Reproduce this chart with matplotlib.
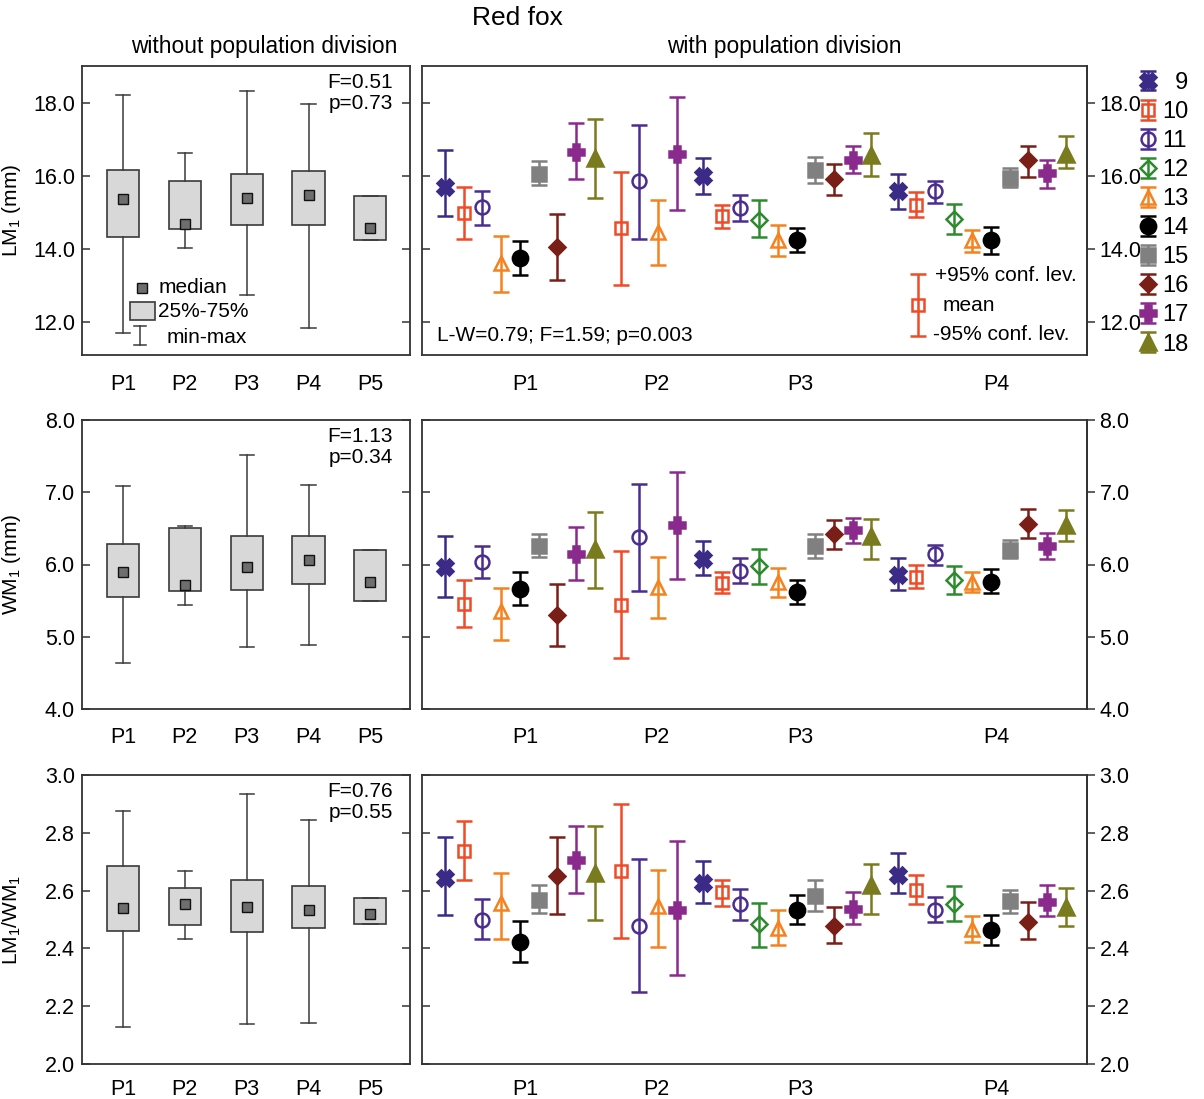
import matplotlib
matplotlib.use("Agg")
import matplotlib.pyplot as plt
import numpy as np
from matplotlib.container import ErrorbarContainer
from matplotlib.legend_handler import HandlerErrorbar
from matplotlib.patches import Rectangle

plt.rcParams['font.family'] = ['Liberation Sans', 'DejaVu Sans']
plt.rcParams['mathtext.fontset'] = 'custom'
plt.rcParams['mathtext.rm'] = 'Liberation Sans'
plt.rcParams['mathtext.it'] = 'Liberation Sans:italic'

# ---- left panels: min / quartiles / median per population ----
pops = ['P1', 'P2', 'P3', 'P4', 'P5']

lm_hi = [18.21, 16.61, 18.32, 17.97, 15.45]
lm_q3 = [16.15, 15.85, 16.06, 16.13, 15.45]
lm_med = [15.36, 14.68, 15.38, 15.47, 14.57]
lm_q1 = [14.33, 14.54, 14.66, 14.66, 14.23]
lm_lo = [11.71, 14.03, 12.75, 11.85, 14.23]

wm_hi = [7.09, 6.53, 7.51, 7.10, 6.20]
wm_q3 = [6.29, 6.51, 6.39, 6.39, 6.20]
wm_med = [5.90, 5.72, 5.96, 6.06, 5.76]
wm_q1 = [5.55, 5.63, 5.65, 5.73, 5.50]
wm_lo = [4.64, 5.44, 4.86, 4.88, 5.50]

rt_hi = [2.876, 2.667, 2.933, 2.844, 2.575]
rt_q3 = [2.686, 2.609, 2.636, 2.617, 2.575]
rt_med = [2.540, 2.555, 2.544, 2.532, 2.520]
rt_q1 = [2.460, 2.480, 2.458, 2.469, 2.483]
rt_lo = [2.127, 2.434, 2.140, 2.141, 2.483]

# ---- right panels: mean and 95% CI per subpopulation ----
groups = ['P1', 'P2', 'P3', 'P4']
members = [[9, 10, 11, 13, 14, 15, 16, 17, 18],
           [10, 11, 13, 17],
           [9, 10, 11, 12, 13, 14, 15, 16, 17, 18],
           [9, 10, 11, 12, 13, 14, 15, 16, 17, 18]]

lm_mean = [15.68, 14.97, 15.14, 13.62, 13.75, 16.05, 14.04, 16.64, 16.49,
           14.57, 15.85, 14.45, 16.60,
           15.99, 14.89, 15.11, 14.80, 14.25, 14.23, 16.17, 15.92, 16.44, 16.58,
           15.58, 15.21, 15.58, 14.82, 14.25, 14.23, 15.94, 16.42, 16.08, 16.60]
lm_up = [16.70, 15.68, 15.58, 14.36, 14.21, 16.40, 14.95, 17.45, 17.56,
         16.11, 17.38, 15.35, 18.16,
         16.48, 15.19, 15.47, 15.35, 14.65, 14.57, 16.52, 16.32, 16.82, 17.17,
         16.05, 15.55, 15.85, 15.23, 14.53, 14.59, 16.20, 16.82, 16.44, 17.10]
lm_dn = [14.90, 14.28, 14.65, 12.81, 13.28, 15.74, 13.16, 15.90, 15.38,
         13.00, 14.28, 13.56, 15.06,
         15.49, 14.57, 14.77, 14.32, 13.80, 13.91, 15.80, 15.48, 16.08, 15.99,
         15.10, 14.88, 15.26, 14.41, 13.92, 13.86, 15.68, 15.97, 15.67, 16.21]

wm_mean = [5.96, 5.45, 6.04, 5.35, 5.66, 6.26, 5.30, 6.14, 6.21,
           5.44, 6.38, 5.69, 6.54,
           6.08, 5.75, 5.91, 5.98, 5.76, 5.62, 6.26, 6.42, 6.48, 6.39,
           5.85, 5.83, 6.14, 5.79, 5.76, 5.76, 6.20, 6.56, 6.25, 6.55]
wm_up = [6.40, 5.79, 6.26, 5.68, 5.89, 6.42, 5.73, 6.52, 6.72,
         6.18, 7.11, 6.11, 7.28,
         6.33, 5.89, 6.09, 6.22, 5.95, 5.78, 6.42, 6.61, 6.65, 6.63,
         6.09, 5.99, 6.27, 5.98, 5.90, 5.94, 6.34, 6.77, 6.43, 6.76]
wm_dn = [5.55, 5.13, 5.81, 4.95, 5.44, 6.10, 4.87, 5.79, 5.67,
         4.70, 5.63, 5.26, 5.80,
         5.86, 5.60, 5.75, 5.73, 5.55, 5.45, 6.09, 6.21, 6.30, 6.07,
         5.65, 5.67, 5.99, 5.59, 5.62, 5.60, 6.09, 6.36, 6.07, 6.33]

rt_mean = [2.644, 2.738, 2.500, 2.558, 2.422, 2.569, 2.652, 2.705, 2.661,
           2.669, 2.477, 2.546, 2.532,
           2.627, 2.594, 2.554, 2.483, 2.471, 2.534, 2.583, 2.477, 2.537, 2.621,
           2.655, 2.601, 2.534, 2.554, 2.468, 2.462, 2.563, 2.491, 2.561, 2.544]
rt_up = [2.784, 2.842, 2.571, 2.661, 2.494, 2.618, 2.787, 2.822, 2.824,
         2.899, 2.709, 2.672, 2.770,
         2.703, 2.638, 2.606, 2.558, 2.532, 2.584, 2.636, 2.544, 2.594, 2.693,
         2.730, 2.653, 2.577, 2.617, 2.511, 2.515, 2.603, 2.560, 2.621, 2.609]
rt_dn = [2.517, 2.638, 2.431, 2.431, 2.354, 2.521, 2.520, 2.590, 2.497,
         2.437, 2.249, 2.405, 2.307,
         2.558, 2.546, 2.500, 2.405, 2.411, 2.486, 2.531, 2.420, 2.486, 2.520,
         2.590, 2.554, 2.491, 2.494, 2.423, 2.411, 2.523, 2.431, 2.511, 2.477]

stats_left = ["F=0.51\np=0.73", "F=1.13\np=0.34", "F=0.76\np=0.55"]

# marker style per subpopulation: (marker, colour, filled, size)
styles = {
    9: ('X', '#3b2a86', True, 11),
    10: ('s', '#f04b26', False, 9),
    11: ('o', '#4a2d8e', False, 10),
    12: ('D', '#2e8a2e', False, 8),
    13: ('^', '#f5821f', False, 10),
    14: ('o', '#000000', True, 11),
    15: ('s', '#808080', True, 10),
    16: ('D', '#7a1e18', True, 8),
    17: ('P', '#8b2a8d', True, 12),
    18: ('^', '#7a7a1e', True, 11),
}

# x positions: consecutive, with an extra 0.4 gap between groups
ids, xpos = [], []
k = 0
for g, mem in enumerate(members):
    for s in mem:
        ids.append(s)
        xpos.append(k + 0.4 * g)
        k += 1
ids = np.array(ids)
xpos = np.array(xpos)
group_ticks = [4.3, 11.3, 19.0, 29.5]

rows = [
    dict(box=(lm_lo, lm_q1, lm_med, lm_q3, lm_hi), ci=(lm_mean, lm_dn, lm_up),
         ylim=(11.1, 19.0), ticks=[12, 14, 16, 18], label='LM$_1$ (mm)'),
    dict(box=(wm_lo, wm_q1, wm_med, wm_q3, wm_hi), ci=(wm_mean, wm_dn, wm_up),
         ylim=(4.0, 8.0), ticks=[4, 5, 6, 7, 8], label='WM$_1$ (mm)'),
    dict(box=(rt_lo, rt_q1, rt_med, rt_q3, rt_hi), ci=(rt_mean, rt_dn, rt_up),
         ylim=(2.0, 3.0), ticks=[2.0, 2.2, 2.4, 2.6, 2.8, 3.0], label='LM$_1$/WM$_1$'),
]

W, H = 1204, 1099
fig = plt.figure(figsize=(W / 100, H / 100), dpi=100)

bottoms = [355, 709, 1064]
xpads = [14, 13, 11]
ax_h = 289
spine_c = '#333333'
box_c = '#3a3a3a'
FS = 15.5
ci_kw = dict(mew=1.8, elinewidth=1.8, capsize=5.5, capthick=1.8)

fig.text(517 / W, 1 - 18 / H, 'Red fox', fontsize=19, ha='center', va='center')
fig.text(264 / W, 1 - 47 / H, 'without population division', fontsize=16.4,
         ha='center', va='center')
fig.text(784 / W, 1 - 47 / H, 'with population division', fontsize=16.4,
         ha='center', va='center')

for r, row in enumerate(rows):
    b = 1 - bottoms[r] / H
    axl = fig.add_axes([82 / W, b, 328 / W, ax_h / H])
    axr = fig.add_axes([422 / W, b, 665 / W, ax_h / H])
    tick_lbls = ['%.1f' % t for t in row['ticks']]

    # ---- left box panel ----
    lo, q1, med, q3, hi = row['box']
    bstats = [dict(whislo=lo[i], q1=q1[i], med=med[i], q3=q3[i], whishi=hi[i], fliers=[])
              for i in range(len(pops))]
    pos = np.arange(1, len(pops) + 1)
    axl.bxp(bstats, positions=pos, widths=0.52, capwidths=0.23, patch_artist=True,
            boxprops=dict(facecolor='#d8d8d8', edgecolor=box_c, linewidth=1.2),
            whiskerprops=dict(color=box_c, linewidth=1.1),
            capprops=dict(color=box_c, linewidth=1.1),
            medianprops=dict(linewidth=0), manage_ticks=False)
    axl.plot(pos, med, 's', ms=6.5, mfc='#6e6e6e', mec='#111111', mew=1.0, zorder=4)
    axl.set_xlim(0.34, 5.64)
    axl.set_ylim(*row['ylim'])
    axl.set_xticks(pos)
    axl.set_xticklabels(pops)
    axl.set_yticks(row['ticks'])
    axl.set_yticklabels(tick_lbls)
    axl.tick_params(axis='x', length=0, pad=xpads[r], labelsize=FS)
    axl.tick_params(axis='y', direction='in', length=6, width=1.1, color=spine_c,
                    right=True, pad=5, labelsize=FS)
    axl.set_ylabel(row['label'], fontsize=15)
    axl.yaxis.set_label_coords(-0.18, 0.5)
    axl.text(0.948, 0.975, stats_left[r], transform=axl.transAxes, ha='right', va='top',
             fontsize=15, linespacing=1.15)

    # ---- right CI panel ----
    mean, dn, up = [np.array(a) for a in row['ci']]
    handles, labels = [], []
    for s in sorted(styles):
        m = ids == s
        mk, c, filled, ms = styles[s]
        cont = axr.errorbar(xpos[m], mean[m], yerr=[mean[m] - dn[m], up[m] - mean[m]],
                            fmt=mk, color=c, ms=ms, mfc=c if filled else 'none',
                            mec=c, zorder=3, **ci_kw)
        handles.append(cont)
        labels.append(('\u2007' + str(s)) if s < 10 else str(s))
    axr.set_xlim(-1.23, 34.33)
    axr.set_ylim(*row['ylim'])
    axr.set_xticks(group_ticks)
    axr.set_xticklabels(groups)
    axr.tick_params(axis='x', length=0, pad=xpads[r], labelsize=FS)
    # inward ticks on the left edge, no labels
    axr.set_yticks(row['ticks'])
    axr.tick_params(axis='y', direction='in', length=6, width=1.1, color=spine_c,
                    left=True, right=False, labelleft=False, labelright=False)
    # outward ticks + labels on the right edge
    sec = axr.secondary_yaxis('right')
    sec.set_yticks(row['ticks'])
    sec.set_yticklabels(tick_lbls)
    sec.tick_params(axis='y', direction='out', length=6, width=1.1, color=spine_c,
                    pad=3, labelsize=FS)
    sec.spines['right'].set_color(spine_c)
    sec.spines['right'].set_linewidth(1.3)
    for ax in (axl, axr):
        for sp in ax.spines.values():
            sp.set_color(spine_c)
            sp.set_linewidth(1.3)

    if r == 0:
        axr.text(0.023, 0.069, 'L-W=0.79; F=1.59; p=0.003', transform=axr.transAxes,
                 ha='left', va='center', fontsize=15)
        # key for CI symbol
        axr.errorbar([0.746], [0.173], yerr=[[0.107], [0.107]], transform=axr.transAxes,
                     fmt='s', color='#f04b26', mfc='none', mec='#f04b26', ms=9,
                     clip_on=False, **ci_kw)
        axr.text(0.771, 0.275, '+95% conf. lev.', transform=axr.transAxes, ha='left',
                 va='center', fontsize=15)
        axr.text(0.783, 0.173, 'mean', transform=axr.transAxes, ha='left',
                 va='center', fontsize=15)
        axr.text(0.768, 0.07, '-95% conf. lev.', transform=axr.transAxes, ha='left',
                 va='center', fontsize=15)
        # key for box symbols
        axl.plot([0.183], [0.232], 's', transform=axl.transAxes, ms=6.5, mfc='#6e6e6e',
                 mec='#111111', mew=1.0)
        axl.text(0.232, 0.232, 'median', transform=axl.transAxes, ha='left', va='center',
                 fontsize=15)
        axl.add_patch(Rectangle((0.146, 0.121), 0.077, 0.062, transform=axl.transAxes,
                                facecolor='#d8d8d8', edgecolor=box_c, linewidth=1.2))
        axl.text(0.232, 0.152, '25%-75%', transform=axl.transAxes, ha='left', va='center',
                 fontsize=15)
        axl.plot([0.177, 0.177], [0.035, 0.100], transform=axl.transAxes, color=box_c, lw=1.1)
        axl.plot([0.159, 0.195], [0.100, 0.100], transform=axl.transAxes, color=box_c, lw=1.1)
        axl.plot([0.159, 0.195], [0.035, 0.035], transform=axl.transAxes, color=box_c, lw=1.1)
        axl.text(0.259, 0.062, 'min-max', transform=axl.transAxes, ha='left', va='center',
                 fontsize=15)

        axr.legend(handles, labels, loc='upper left', bbox_to_anchor=(1.074, 0.98),
                   frameon=False, fontsize=17, handlelength=1.0, handletextpad=0.1,
                   labelspacing=0.30, borderaxespad=0, borderpad=0,
                   handler_map={ErrorbarContainer: HandlerErrorbar(xerr_size=0.3,
                                                                    yerr_size=0.42)})

fig.savefig('out.png', dpi=100)
